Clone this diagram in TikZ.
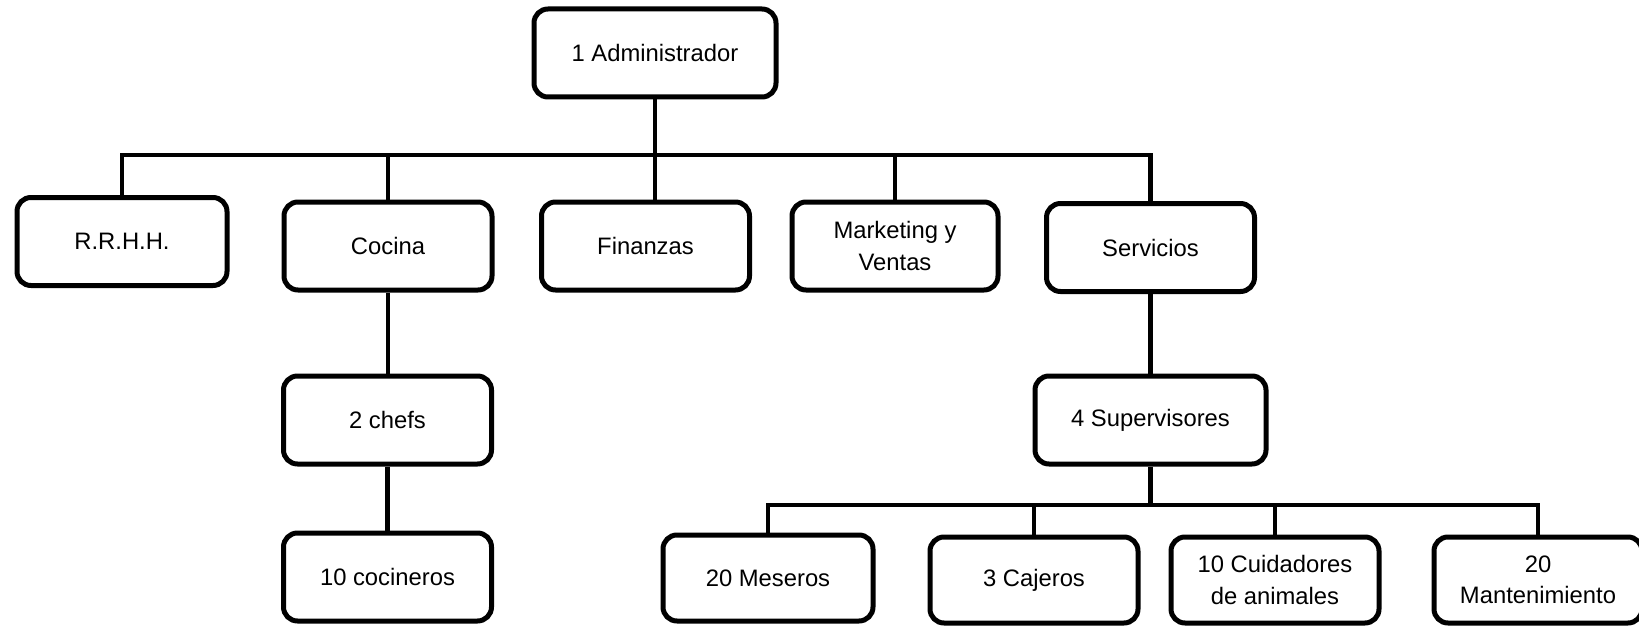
\documentclass[tikz,border=0pt]{standalone}
\usepackage{fontspec}
\setmainfont{Liberation Sans}
\begin{document}
\begin{tikzpicture}[x=0.5pt,y=-0.5pt,
  box/.style={draw, line width=2.5pt, rounded corners=7pt, inner sep=0pt, align=center,
    minimum width=104pt, minimum height=44pt, fill=white,
    font=\fontsize{11.9}{15.7}\selectfont},
  conn/.style={line width=2.3pt, line join=miter}]
\useasboundingbox (0,0) rectangle (1639,626);
% nodes
\node[box, minimum width=121pt] (admin) at (655,53) {1 Administrador};
\node[box, minimum width=105pt] (rrhh) at (122,241.5) {R.R.H.H.};
\node[box] (cocina) at (388,246) {Cocina};
\node[box] (finanzas) at (645.5,246) {Finanzas};
\node[box, minimum width=103pt] (marketing) at (895,246) {Marketing y\\Ventas};
\node[box] (servicios) at (1150.5,247.5) {Servicios};
\node[box] (chefs) at (387.5,420) {2 chefs};
\node[box] (cocineros) at (387.5,577) {10 cocineros};
\node[box, minimum width=115.5pt] (superv) at (1150.5,420) {4 Supervisores};
\node[box, minimum width=105pt, minimum height=43pt] (meseros) at (768,578) {20 Meseros};
\node[box, minimum height=43pt] (cajeros) at (1034,580) {3 Cajeros};
\node[box, minimum height=43pt] (cuidadores) at (1275,580) {10 Cuidadores\\de animales};
\node[box, minimum height=43pt] (mant) at (1538,580) {20\\Mantenimiento};
% bar levels
\coordinate (b1) at (0,155);
\coordinate (b2) at (0,505);
% top level connectors
\draw[conn] (admin.south) -- (admin.south |- finanzas.north);
\draw[conn] (rrhh.north) -- (rrhh.north |- b1) -- (servicios.north |- b1) -- (servicios.north);
\draw[conn] (cocina.north) -- (cocina.north |- b1);
\draw[conn] (marketing.north) -- (marketing.north |- b1);
% cocina chain
\draw[conn] (cocina.south) -- (cocina.south |- chefs.north);
\draw[conn] (chefs.south) -- (chefs.south |- cocineros.north);
% servicios chain
\draw[conn] (servicios.south) -- (servicios.south |- superv.north);
\draw[conn] (superv.south) -- (superv.south |- b2);
\draw[conn] (meseros.north) -- (meseros.north |- b2) -- (mant.north |- b2) -- (mant.north);
\draw[conn] (cajeros.north) -- (cajeros.north |- b2);
\draw[conn] (cuidadores.north) -- (cuidadores.north |- b2);
\end{tikzpicture}
\end{document}
